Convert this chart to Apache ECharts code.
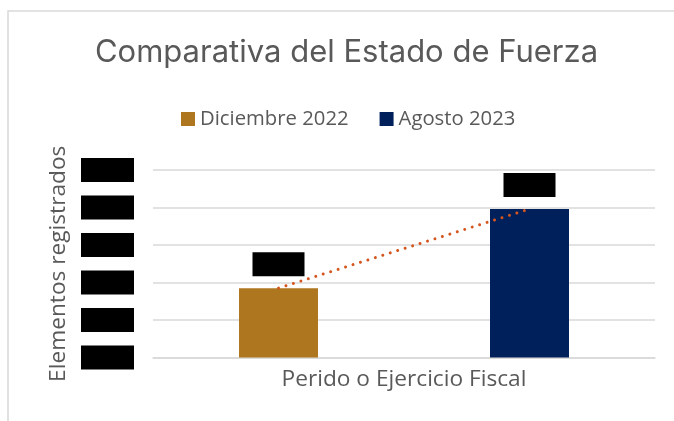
<!DOCTYPE html>
<html>
<head>
<meta charset="utf-8">
<script src="https://cdn.jsdelivr.net/npm/echarts@6/dist/echarts.min.js"></script>
<style>
html,body{margin:0;padding:0;background:#fff;}
#chart{width:674px;height:421px;}
</style>
</head>
<body>
<div id="chart"></div>
<script>
var titleText = 'Comparativa del Estado de Fuerza';
var categories = ['Diciembre 2022', 'Agosto 2023'];
var seriesNames = ['Diciembre 2022', 'Agosto 2023'];
var diciembre2022 = [185, '-'];
var agosto2023 = ['-', 396];
var trendValues = [185, 396];
var yTicks = [0, 100, 200, 300, 400, 500];
var xAxisTitle = 'Perido o Ejercicio Fiscal';
var yAxisTitle = 'Elementos registrados';

var chart = echarts.init(document.getElementById('chart'), null, {renderer: 'canvas'});
var boxLabel = function (v) { return '{b|' + v + '}'; };
var boxRich = {b: {backgroundColor: '#000', color: '#000', width: 52, height: 24, align: 'center', lineHeight: 24, fontSize: 14}};

chart.setOption({
  animation: false,
  backgroundColor: '#fff',
  graphic: [{
    type: 'rect', z: -10, silent: true,
    shape: {x: 8, y: 11, width: 800, height: 460},
    style: {fill: '#fff', stroke: '#d9d9d9', lineWidth: 1.5}
  }],
  title: {
    text: titleText, left: 346.5, textAlign: 'center', top: 37, padding: 0,
    textStyle: {fontFamily: 'Inter', fontWeight: 'normal', fontSize: 31, color: '#595959'}
  },
  legend: {
    data: seriesNames, left: 176, top: 104, icon: 'rect', padding: 5,
    itemWidth: 14, itemHeight: 14, itemGap: 31,
    textStyle: {fontFamily: 'Open Sans', fontSize: 20.3, color: '#595959'}
  },
  grid: {left: 153, right: 19, top: 170, bottom: 63.5, containLabel: false},
  xAxis: {
    type: 'category', data: categories,
    axisLabel: {show: false}, axisTick: {show: false},
    axisLine: {lineStyle: {color: '#d9d9d9', width: 1.5}},
    name: xAxisTitle, nameLocation: 'middle', nameGap: 11,
    nameTextStyle: {fontFamily: 'Open Sans', fontSize: 22.7, color: '#595959'}
  },
  yAxis: {
    type: 'value', min: yTicks[0], max: yTicks[yTicks.length - 1], interval: yTicks[1] - yTicks[0],
    axisLine: {show: false}, axisTick: {show: false},
    splitLine: {lineStyle: {color: '#d9d9d9', width: 1.5}},
    axisLabel: {margin: 19, formatter: boxLabel, rich: {b: {backgroundColor: '#000', color: '#000', width: 53, height: 24, align: 'center', lineHeight: 24, fontSize: 14}}},
    name: yAxisTitle, nameLocation: 'middle', nameGap: 82, nameRotate: 90,
    nameTextStyle: {fontFamily: 'Open Sans', fontSize: 22.7, color: '#595959'}
  },
  series: [
    {
      name: seriesNames[0], type: 'bar', stack: 's', barWidth: 79, data: diciembre2022,
      itemStyle: {color: '#AE761E'},
      label: {show: true, position: 'top', distance: 12, formatter: function (p) { return boxLabel(p.value); }, rich: boxRich}
    },
    {
      name: seriesNames[1], type: 'bar', stack: 's', barWidth: 79, data: agosto2023,
      itemStyle: {color: '#00205B'},
      label: {show: true, position: 'top', distance: 12, formatter: function (p) { return boxLabel(p.value); }, rich: boxRich}
    },
    {
      name: 'Tendencia', type: 'line', data: trendValues, symbol: 'none', z: 5,
      lineStyle: {color: '#D4561E', width: 3, type: [0.01, 7.8], cap: 'round'}
    }
  ]
});
</script>
</body>
</html>
